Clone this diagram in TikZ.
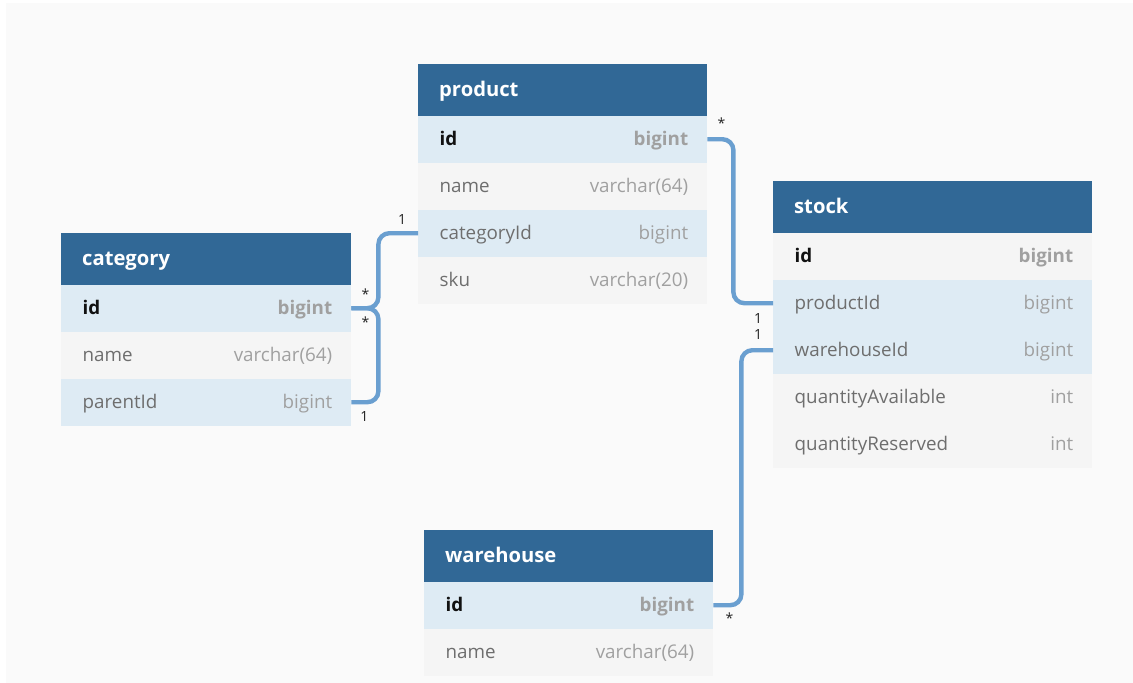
\documentclass[tikz,border=0pt]{standalone}
\usepackage{fontspec}
\setmainfont{Open Sans}
\usetikzlibrary{calc}

\definecolor{canvas}{HTML}{FAFAFA}
\definecolor{hdrblue}{HTML}{316896}
\definecolor{rowblue}{HTML}{DEEBF4}
\definecolor{rowgrey}{HTML}{F5F5F5}
\definecolor{fieldtxt}{HTML}{6E6E6E}
\definecolor{typetxt}{HTML}{A0A0A0}
\definecolor{keytxt}{HTML}{111111}
\definecolor{linkblue}{HTML}{6A9FD0}
\definecolor{cardtxt}{HTML}{222222}

% table header: name, x, y(top), width, title
\newcommand\tblhead[5]{%
  \node[hdr, minimum width=#4pt] (#1) at (#2,#3) {};
  \node[hdrtitle] at ([xshift=21pt,yshift=-7pt]#1.west) {#5};}
% ordinary field row: name, x, y(top), width, fill, field, type
\newcommand\tblrow[7]{%
  \node[rowbox, fill=#5, minimum width=#4pt] (#1) at (#2,#3) {};
  \node[fieldname] at ([xshift=21.5pt,yshift=-6pt]#1.west) {#6};
  \node[fieldtype] at ([xshift=-19pt,yshift=-6pt]#1.east) {#7};}
% primary-key row
\newcommand\tblkey[7]{%
  \node[rowbox, fill=#5, minimum width=#4pt] (#1) at (#2,#3) {};
  \node[keyname] at ([xshift=21.5pt,yshift=-6pt]#1.west) {#6};
  \node[keytype] at ([xshift=-19pt,yshift=-6pt]#1.east) {#7};}

\tikzset{
  hdr/.style={anchor=north west, fill=hdrblue, inner sep=0pt, minimum height=51.5pt},
  hdrtitle/.style={anchor=base west, inner sep=0pt, text=white,
    font=\fontsize{20.2}{22}\selectfont\bfseries},
  rowbox/.style={anchor=north west, inner sep=0pt, minimum height=47pt},
  fieldname/.style={anchor=base west, inner sep=0pt, text=fieldtxt,
    font=\fontsize{18.8}{22}\selectfont},
  fieldtype/.style={anchor=base east, inner sep=0pt, text=typetxt,
    font=\fontsize{18.8}{22}\selectfont},
  keyname/.style={fieldname, text=keytxt, font=\fontsize{18.8}{22}\selectfont\bfseries},
  keytype/.style={fieldtype, font=\fontsize{18.8}{22}\selectfont\bfseries},
  link/.style={draw=linkblue, line width=4.4pt, rounded corners=11pt},
  card/.style={inner sep=0pt, text=cardtxt, font=\fontsize{14}{16}\selectfont},
}

\begin{document}
\begin{tikzpicture}[x=1pt, y=-1pt]
\useasboundingbox (0,0) rectangle (1133,683);
\fill[canvas] (6,3) rectangle (1133,683);

% ---- category ----
\tblhead{cat}{61}{233}{290}{category}
\tblkey{cat-id}{61}{284.5}{290}{rowblue}{id}{bigint}
\tblrow{cat-name}{61}{331.5}{290}{rowgrey}{name}{varchar(64)}
\tblrow{cat-pid}{61}{378.5}{290}{rowblue}{parentId}{bigint}

% ---- product ----
\tblhead{prod}{418}{64}{289}{product}
\tblkey{prod-id}{418}{115.5}{289}{rowblue}{id}{bigint}
\tblrow{prod-name}{418}{162.5}{289}{rowgrey}{name}{varchar(64)}
\tblrow{prod-cid}{418}{209.5}{289}{rowblue}{categoryId}{bigint}
\tblrow{prod-sku}{418}{256.5}{289}{rowgrey}{sku}{varchar(20)}

% ---- stock ----
\tblhead{stk}{773}{181}{319}{stock}
\tblkey{stk-id}{773}{232.5}{319}{rowgrey}{id}{bigint}
\tblrow{stk-pid}{773}{279.5}{319}{rowblue}{productId}{bigint}
\tblrow{stk-wid}{773}{326.5}{319}{rowblue}{warehouseId}{bigint}
\tblrow{stk-qa}{773}{373.5}{319}{rowgrey}{quantityAvailable}{int}
\tblrow{stk-qr}{773}{420.5}{319}{rowgrey}{quantityReserved}{int}

% ---- warehouse ----
\tblhead{wh}{424}{530}{289}{warehouse}
\tblkey{wh-id}{424}{581.5}{289}{rowblue}{id}{bigint}
\tblrow{wh-name}{424}{628.5}{289}{rowgrey}{name}{varchar(64)}

% ---- relationships ----
\draw[link] (prod-id.east) -- ++(26,0) |- (stk-pid.west);
\draw[link] (wh-id.east) -- ++(28,0) |- (stk-wid.west);
\draw[link] (cat-id.east) -- ++(27,0) |- (prod-cid.west);
\draw[link] (cat-pid.east) -- ++(27,0) |- (cat-id.east);

% ---- cardinalities ----
\node[card] (c1) at ([xshift=-16pt,yshift=14pt]prod-cid.west) {1};
\node[card] (c2) at ([xshift=14pt,yshift=14pt]cat-id.east) {*};
\node[card] (c3) at ([xshift=14pt,yshift=-14pt]cat-id.east) {*};
\node[card] (c4) at ([xshift=13pt,yshift=-14pt]cat-pid.east) {1};
\node[card] (c5) at ([xshift=14pt,yshift=16pt]prod-id.east) {*};
\node[card] (c6) at ([xshift=-15pt,yshift=-15pt]stk-pid.west) {1};
\node[card] (c7) at ([xshift=-15pt,yshift=16pt]stk-wid.west) {1};
\node[card] (c8) at ([xshift=16pt,yshift=-13pt]wh-id.east) {*};
\end{tikzpicture}
\end{document}
